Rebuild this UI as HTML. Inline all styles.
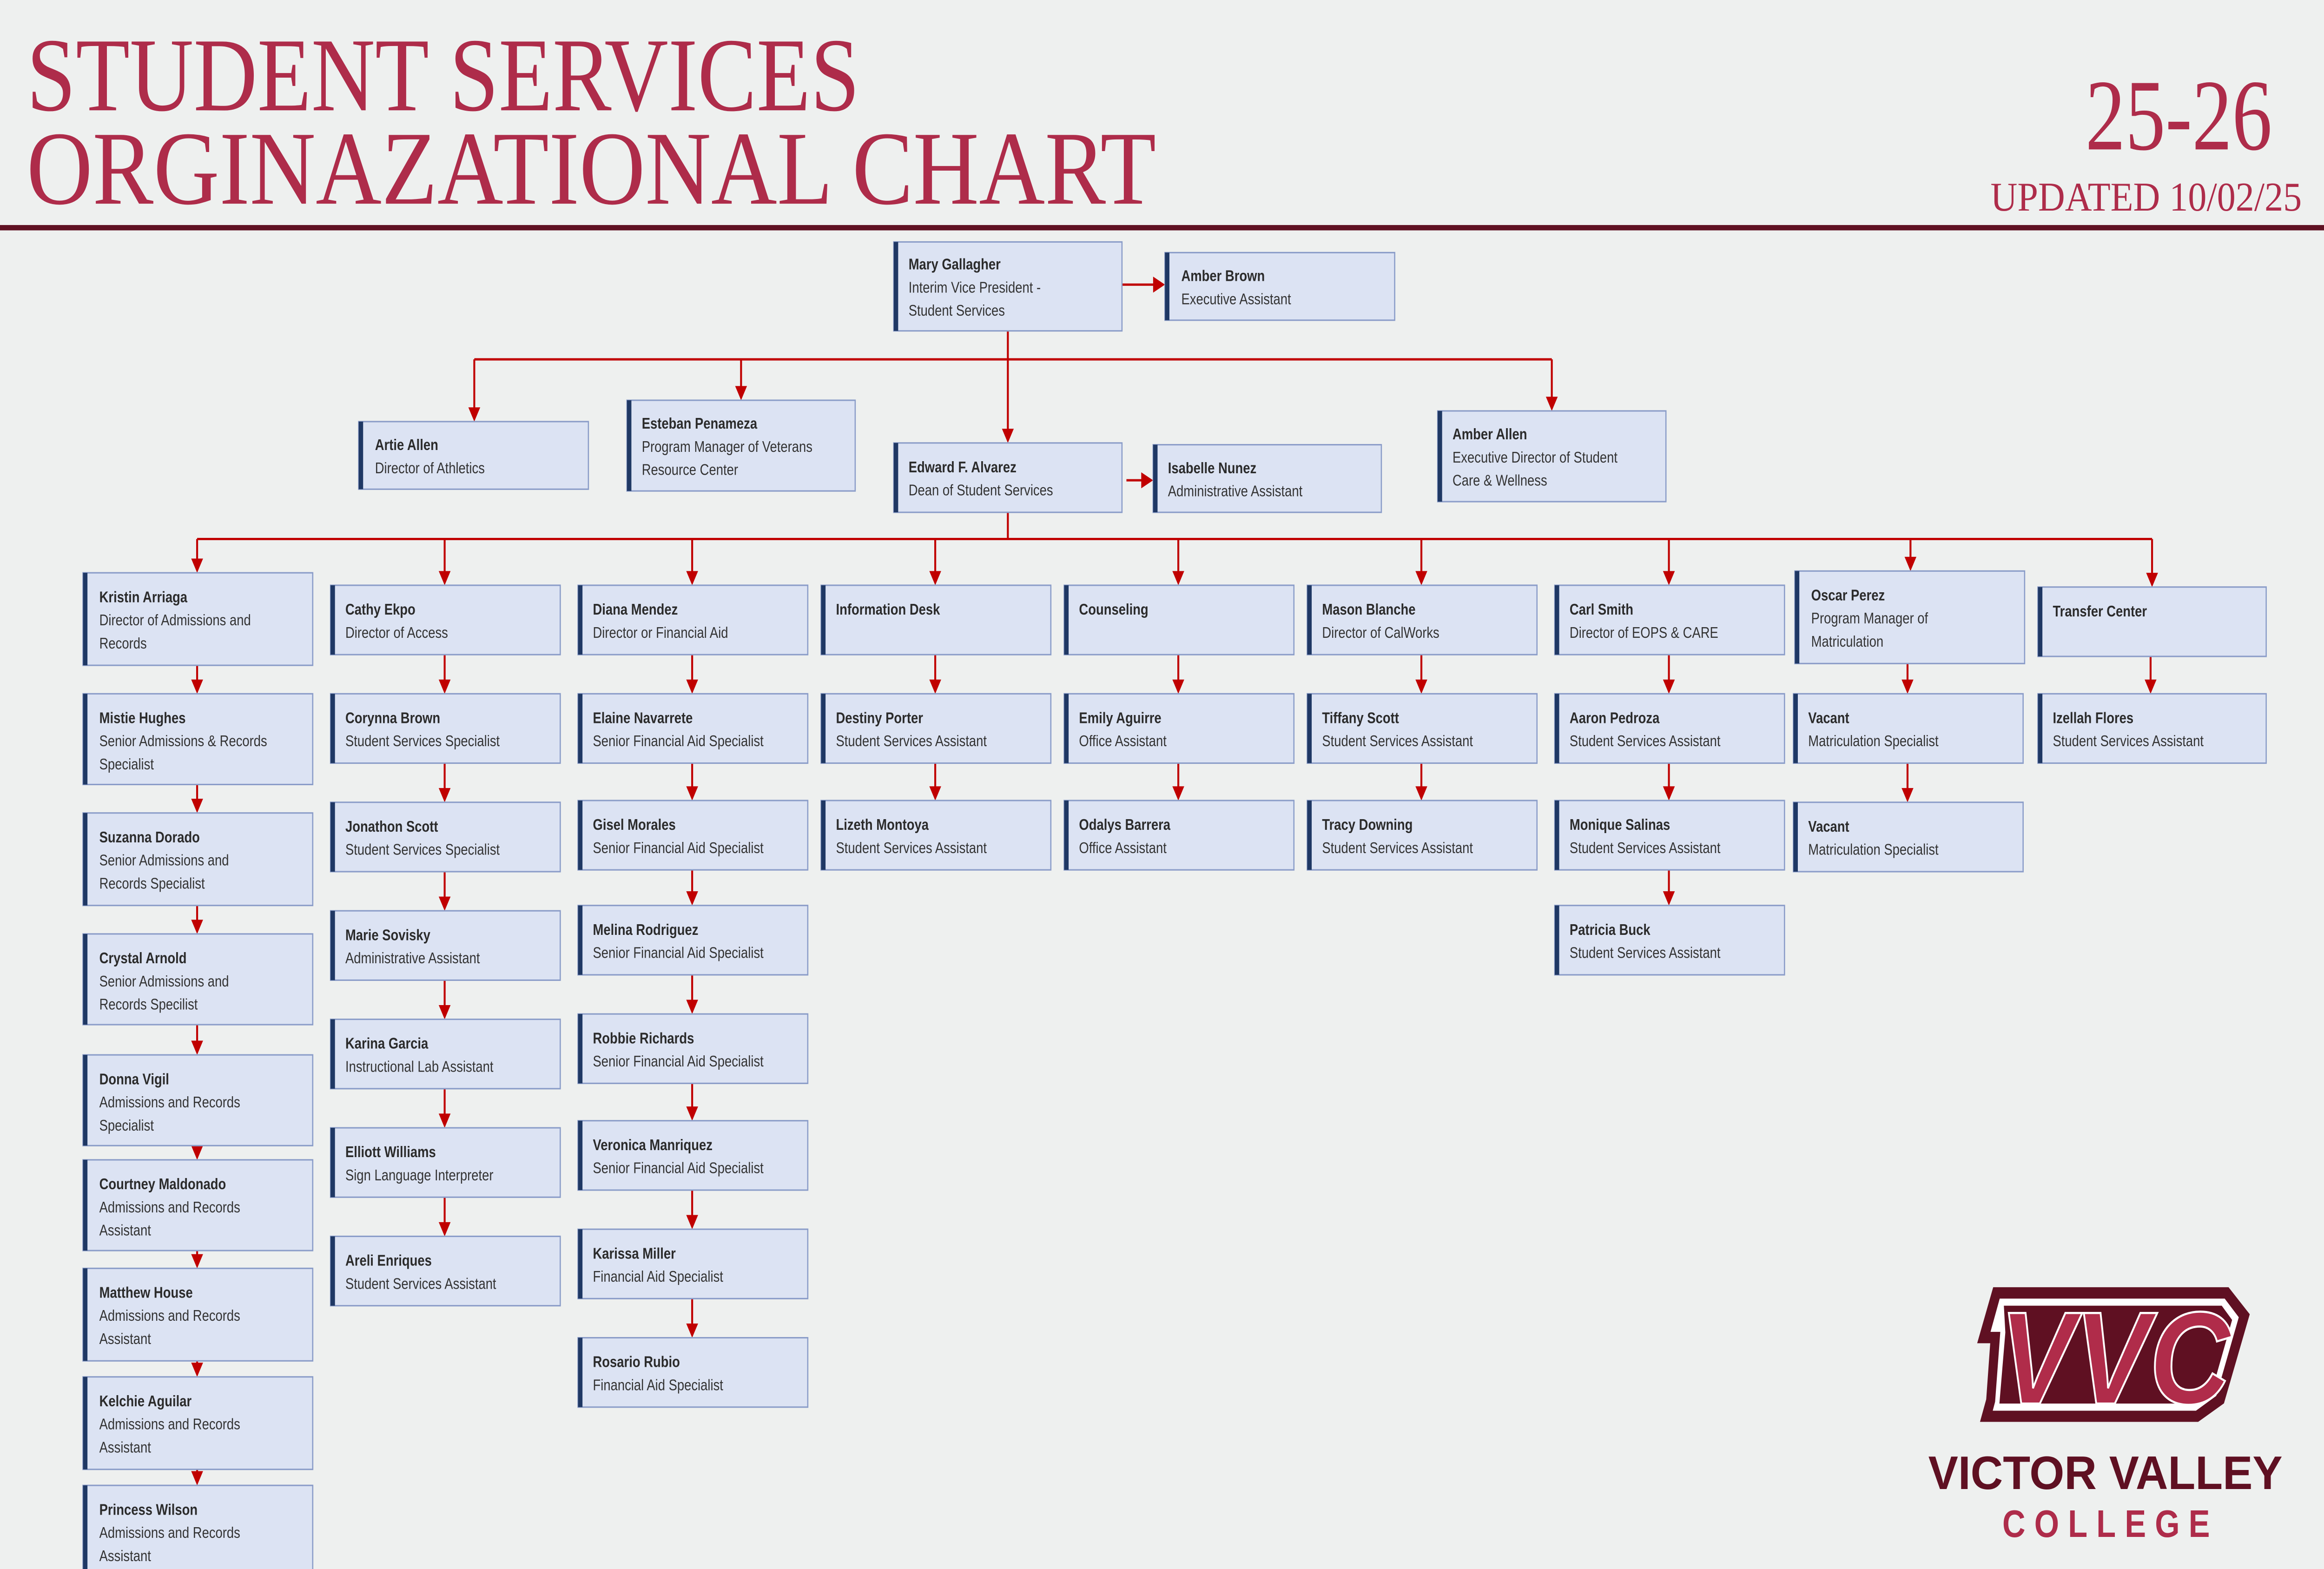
<!DOCTYPE html>
<html><head><meta charset="utf-8"><style>
html,body{margin:0;padding:0;background:#eef0ef;overflow:hidden;width:100vw;height:100vh;}
svg{display:block;position:absolute;left:0;top:0;width:100vw;height:100vh;}
.n{font-family:"Liberation Sans",sans-serif;font-size:8.6px;font-weight:bold;fill:#2b2b2b;}
.t{font-family:"Liberation Sans",sans-serif;font-size:8.6px;fill:#333;}
.b{fill:#dce3f3;stroke:#8a9cc8;stroke-width:0.8;}
.bar{fill:#1f3864;}
.ln{stroke:#c00000;stroke-width:1.3;fill:none;}
.ah{fill:#c00000;}
.ser{font-family:"Liberation Serif",serif;fill:#ae2c4a;}
</style></head><body>
<svg viewBox="0 0 1568 882" preserveAspectRatio="none" xmlns="http://www.w3.org/2000/svg">
<rect width="1568" height="882" fill="#eef0ef"/>
<text class="ser" x="18" y="62" font-size="59" textLength="562" lengthAdjust="spacingAndGlyphs">STUDENT SERVICES</text>
<text class="ser" x="18" y="114.5" font-size="59" textLength="762" lengthAdjust="spacingAndGlyphs">ORGINAZATIONAL CHART</text>
<text class="ser" x="1407" y="84" font-size="57" textLength="126" lengthAdjust="spacingAndGlyphs">25-26</text>
<text class="ser" x="1343" y="118.4" font-size="23" textLength="210" lengthAdjust="spacingAndGlyphs">UPDATED 10/02/25</text>
<rect x="0" y="126.5" width="1568" height="3" fill="#5f1022"/>

<path class="ln" d="M757,160H780 M760,270H772 M680,186V243 M320,202H1047 M320,202V231 M500,202V219 M1047,202V225 M680,288V303 M133,303H1452
M133,303V316 M300,303V323 M467,303V323 M631,303V323 M795,303V323 M959,303V323 M1126,303V323 M1289,303V315 M1452,303V324
M133,374V384 M133,441V451 M133,509V519 M133,576V587 M133,644V646 M133,703V707 M133,765V768 M133,826V829
M300,368V384 M300,429V445 M300,490V506 M300,551V567 M300,612V628 M300,673V689
M467,368V384 M467,429V444 M467,489V503 M467,548V564 M467,609V624 M467,669V685 M467,730V746
M631,368V384 M631,429V444 M795,368V384 M795,429V444 M959,368V384 M959,429V444
M1126,368V384 M1126,429V444 M1126,489V503 M1287,373V384 M1287,429V445 M1451,369V384"/>
<g class="ah">
<polygon points="778,155.5 786,160 778,164.5"/>
<polygon points="770,265.5 778,270 770,274.5"/>
<polygon points="676,241 684,241 680,249"/>
<polygon points="316,229 324,229 320,237"/>
<polygon points="496,217 504,217 500,225"/>
<polygon points="1043,223 1051,223 1047,231"/>
<polygon points="129,314 137,314 133,322"/><polygon points="296,321 304,321 300,329"/><polygon points="463,321 471,321 467,329"/><polygon points="627,321 635,321 631,329"/><polygon points="791,321 799,321 795,329"/><polygon points="955,321 963,321 959,329"/><polygon points="1122,321 1130,321 1126,329"/><polygon points="1285,313 1293,313 1289,321"/><polygon points="1448,322 1456,322 1452,330"/>
<polygon points="129,382 137,382 133,390"/><polygon points="129,449 137,449 133,457"/><polygon points="129,517 137,517 133,525"/><polygon points="129,585 137,585 133,593"/><polygon points="129,644 137,644 133,652"/><polygon points="129,705 137,705 133,713"/><polygon points="129,766 137,766 133,774"/><polygon points="129,827 137,827 133,835"/>
<polygon points="296,382 304,382 300,390"/><polygon points="296,443 304,443 300,451"/><polygon points="296,504 304,504 300,512"/><polygon points="296,565 304,565 300,573"/><polygon points="296,626 304,626 300,634"/><polygon points="296,687 304,687 300,695"/>
<polygon points="463,382 471,382 467,390"/><polygon points="463,442 471,442 467,450"/><polygon points="463,501 471,501 467,509"/><polygon points="463,562 471,562 467,570"/><polygon points="463,622 471,622 467,630"/><polygon points="463,683 471,683 467,691"/><polygon points="463,744 471,744 467,752"/>
<polygon points="627,382 635,382 631,390"/><polygon points="627,442 635,442 631,450"/>
<polygon points="791,382 799,382 795,390"/><polygon points="791,442 799,442 795,450"/>
<polygon points="955,382 963,382 959,390"/><polygon points="955,442 963,442 959,450"/>
<polygon points="1122,382 1130,382 1126,390"/><polygon points="1122,442 1130,442 1126,450"/><polygon points="1122,501 1130,501 1126,509"/>
<polygon points="1283,382 1291,382 1287,390"/><polygon points="1283,443 1291,443 1287,451"/>
<polygon points="1447,382 1455,382 1451,390"/>
</g>

<g>
<rect class="b" x="603" y="136" width="154" height="50"/><rect class="bar" x="603" y="136" width="3" height="50"/><text class="n" x="613" y="151.5">Mary Gallagher</text><text class="t" x="613" y="164.5">Interim Vice President -</text><text class="t" x="613" y="177.5">Student Services</text>
<rect class="b" x="786" y="142" width="155" height="38"/><rect class="bar" x="786" y="142" width="3" height="38"/><text class="n" x="797" y="158">Amber Brown</text><text class="t" x="797" y="171">Executive Assistant</text>
<rect class="b" x="242" y="237" width="155" height="38"/><rect class="bar" x="242" y="237" width="3" height="38"/><text class="n" x="253" y="253">Artie Allen</text><text class="t" x="253" y="266">Director of Athletics</text>
<rect class="b" x="423" y="225" width="154" height="51"/><rect class="bar" x="423" y="225" width="3" height="51"/><text class="n" x="433" y="241">Esteban Penameza</text><text class="t" x="433" y="254">Program Manager of Veterans</text><text class="t" x="433" y="267">Resource Center</text>
<rect class="b" x="970" y="231" width="154" height="51"/><rect class="bar" x="970" y="231" width="3" height="51"/><text class="n" x="980" y="247">Amber Allen</text><text class="t" x="980" y="260">Executive Director of Student</text><text class="t" x="980" y="273">Care &amp; Wellness</text>
<rect class="b" x="603" y="249" width="154" height="39"/><rect class="bar" x="603" y="249" width="3" height="39"/><text class="n" x="613" y="265.5">Edward F. Alvarez</text><text class="t" x="613" y="278.5">Dean of Student Services</text>
<rect class="b" x="778" y="250" width="154" height="38"/><rect class="bar" x="778" y="250" width="3" height="38"/><text class="n" x="788" y="266">Isabelle Nunez</text><text class="t" x="788" y="279">Administrative Assistant</text>
</g>

<g>
<rect class="b" x="56" y="322" width="155" height="52"/><rect class="bar" x="56" y="322" width="3" height="52"/><text class="n" x="67" y="338.5">Kristin Arriaga</text><text class="t" x="67" y="351.5">Director of Admissions and</text><text class="t" x="67" y="364.5">Records</text>
<rect class="b" x="56" y="390" width="155" height="51"/><rect class="bar" x="56" y="390" width="3" height="51"/><text class="n" x="67" y="406.5">Mistie Hughes</text><text class="t" x="67" y="419.5">Senior Admissions &amp; Records</text><text class="t" x="67" y="432.5">Specialist</text>
<rect class="b" x="56" y="457" width="155" height="52"/><rect class="bar" x="56" y="457" width="3" height="52"/><text class="n" x="67" y="473.5">Suzanna Dorado</text><text class="t" x="67" y="486.5">Senior Admissions and</text><text class="t" x="67" y="499.5">Records Specialist</text>
<rect class="b" x="56" y="525" width="155" height="51"/><rect class="bar" x="56" y="525" width="3" height="51"/><text class="n" x="67" y="541.5">Crystal Arnold</text><text class="t" x="67" y="554.5">Senior Admissions and</text><text class="t" x="67" y="567.5">Records Specilist</text>
<rect class="b" x="56" y="593" width="155" height="51"/><rect class="bar" x="56" y="593" width="3" height="51"/><text class="n" x="67" y="609.5">Donna Vigil</text><text class="t" x="67" y="622.5">Admissions and Records</text><text class="t" x="67" y="635.5">Specialist</text>
<rect class="b" x="56" y="652" width="155" height="51"/><rect class="bar" x="56" y="652" width="3" height="51"/><text class="n" x="67" y="668.5">Courtney Maldonado</text><text class="t" x="67" y="681.5">Admissions and Records</text><text class="t" x="67" y="694.5">Assistant</text>
<rect class="b" x="56" y="713" width="155" height="52"/><rect class="bar" x="56" y="713" width="3" height="52"/><text class="n" x="67" y="729.5">Matthew House</text><text class="t" x="67" y="742.5">Admissions and Records</text><text class="t" x="67" y="755.5">Assistant</text>
<rect class="b" x="56" y="774" width="155" height="52"/><rect class="bar" x="56" y="774" width="3" height="52"/><text class="n" x="67" y="790.5">Kelchie Aguilar</text><text class="t" x="67" y="803.5">Admissions and Records</text><text class="t" x="67" y="816.5">Assistant</text>
<rect class="b" x="56" y="835" width="155" height="52"/><rect class="bar" x="56" y="835" width="3" height="52"/><text class="n" x="67" y="851.5">Princess Wilson</text><text class="t" x="67" y="864.5">Admissions and Records</text><text class="t" x="67" y="877.5">Assistant</text>
</g>
<g>
<rect class="b" x="223" y="329" width="155" height="39"/><rect class="bar" x="223" y="329" width="3" height="39"/><text class="n" x="233" y="345.5">Cathy Ekpo</text><text class="t" x="233" y="358.5">Director of Access</text>
<rect class="b" x="223" y="390" width="155" height="39"/><rect class="bar" x="223" y="390" width="3" height="39"/><text class="n" x="233" y="406.5">Corynna Brown</text><text class="t" x="233" y="419.5">Student Services Specialist</text>
<rect class="b" x="223" y="451" width="155" height="39"/><rect class="bar" x="223" y="451" width="3" height="39"/><text class="n" x="233" y="467.5">Jonathon Scott</text><text class="t" x="233" y="480.5">Student Services Specialist</text>
<rect class="b" x="223" y="512" width="155" height="39"/><rect class="bar" x="223" y="512" width="3" height="39"/><text class="n" x="233" y="528.5">Marie Sovisky</text><text class="t" x="233" y="541.5">Administrative Assistant</text>
<rect class="b" x="223" y="573" width="155" height="39"/><rect class="bar" x="223" y="573" width="3" height="39"/><text class="n" x="233" y="589.5">Karina Garcia</text><text class="t" x="233" y="602.5">Instructional Lab Assistant</text>
<rect class="b" x="223" y="634" width="155" height="39"/><rect class="bar" x="223" y="634" width="3" height="39"/><text class="n" x="233" y="650.5">Elliott Williams</text><text class="t" x="233" y="663.5">Sign Language Interpreter</text>
<rect class="b" x="223" y="695" width="155" height="39"/><rect class="bar" x="223" y="695" width="3" height="39"/><text class="n" x="233" y="711.5">Areli Enriques</text><text class="t" x="233" y="724.5">Student Services Assistant</text>
</g>
<g>
<rect class="b" x="390" y="329" width="155" height="39"/><rect class="bar" x="390" y="329" width="3" height="39"/><text class="n" x="400" y="345.5">Diana Mendez</text><text class="t" x="400" y="358.5">Director or Financial Aid</text>
<rect class="b" x="390" y="390" width="155" height="39"/><rect class="bar" x="390" y="390" width="3" height="39"/><text class="n" x="400" y="406.5">Elaine Navarrete</text><text class="t" x="400" y="419.5">Senior Financial Aid Specialist</text>
<rect class="b" x="390" y="450" width="155" height="39"/><rect class="bar" x="390" y="450" width="3" height="39"/><text class="n" x="400" y="466.5">Gisel Morales</text><text class="t" x="400" y="479.5">Senior Financial Aid Specialist</text>
<rect class="b" x="390" y="509" width="155" height="39"/><rect class="bar" x="390" y="509" width="3" height="39"/><text class="n" x="400" y="525.5">Melina Rodriguez</text><text class="t" x="400" y="538.5">Senior Financial Aid Specialist</text>
<rect class="b" x="390" y="570" width="155" height="39"/><rect class="bar" x="390" y="570" width="3" height="39"/><text class="n" x="400" y="586.5">Robbie Richards</text><text class="t" x="400" y="599.5">Senior Financial Aid Specialist</text>
<rect class="b" x="390" y="630" width="155" height="39"/><rect class="bar" x="390" y="630" width="3" height="39"/><text class="n" x="400" y="646.5">Veronica Manriquez</text><text class="t" x="400" y="659.5">Senior Financial Aid Specialist</text>
<rect class="b" x="390" y="691" width="155" height="39"/><rect class="bar" x="390" y="691" width="3" height="39"/><text class="n" x="400" y="707.5">Karissa Miller</text><text class="t" x="400" y="720.5">Financial Aid Specialist</text>
<rect class="b" x="390" y="752" width="155" height="39"/><rect class="bar" x="390" y="752" width="3" height="39"/><text class="n" x="400" y="768.5">Rosario Rubio</text><text class="t" x="400" y="781.5">Financial Aid Specialist</text>
</g>
<g>
<rect class="b" x="554" y="329" width="155" height="39"/><rect class="bar" x="554" y="329" width="3" height="39"/><text class="n" x="564" y="345.5">Information Desk</text>
<rect class="b" x="554" y="390" width="155" height="39"/><rect class="bar" x="554" y="390" width="3" height="39"/><text class="n" x="564" y="406.5">Destiny Porter</text><text class="t" x="564" y="419.5">Student Services Assistant</text>
<rect class="b" x="554" y="450" width="155" height="39"/><rect class="bar" x="554" y="450" width="3" height="39"/><text class="n" x="564" y="466.5">Lizeth Montoya</text><text class="t" x="564" y="479.5">Student Services Assistant</text>

<rect class="b" x="718" y="329" width="155" height="39"/><rect class="bar" x="718" y="329" width="3" height="39"/><text class="n" x="728" y="345.5">Counseling</text>
<rect class="b" x="718" y="390" width="155" height="39"/><rect class="bar" x="718" y="390" width="3" height="39"/><text class="n" x="728" y="406.5">Emily Aguirre</text><text class="t" x="728" y="419.5">Office Assistant</text>
<rect class="b" x="718" y="450" width="155" height="39"/><rect class="bar" x="718" y="450" width="3" height="39"/><text class="n" x="728" y="466.5">Odalys Barrera</text><text class="t" x="728" y="479.5">Office Assistant</text>

<rect class="b" x="882" y="329" width="155" height="39"/><rect class="bar" x="882" y="329" width="3" height="39"/><text class="n" x="892" y="345.5">Mason Blanche</text><text class="t" x="892" y="358.5">Director of CalWorks</text>
<rect class="b" x="882" y="390" width="155" height="39"/><rect class="bar" x="882" y="390" width="3" height="39"/><text class="n" x="892" y="406.5">Tiffany Scott</text><text class="t" x="892" y="419.5">Student Services Assistant</text>
<rect class="b" x="882" y="450" width="155" height="39"/><rect class="bar" x="882" y="450" width="3" height="39"/><text class="n" x="892" y="466.5">Tracy Downing</text><text class="t" x="892" y="479.5">Student Services Assistant</text>

<rect class="b" x="1049" y="329" width="155" height="39"/><rect class="bar" x="1049" y="329" width="3" height="39"/><text class="n" x="1059" y="345.5">Carl Smith</text><text class="t" x="1059" y="358.5">Director of EOPS &amp; CARE</text>
<rect class="b" x="1049" y="390" width="155" height="39"/><rect class="bar" x="1049" y="390" width="3" height="39"/><text class="n" x="1059" y="406.5">Aaron Pedroza</text><text class="t" x="1059" y="419.5">Student Services Assistant</text>
<rect class="b" x="1049" y="450" width="155" height="39"/><rect class="bar" x="1049" y="450" width="3" height="39"/><text class="n" x="1059" y="466.5">Monique Salinas</text><text class="t" x="1059" y="479.5">Student Services Assistant</text>
<rect class="b" x="1049" y="509" width="155" height="39"/><rect class="bar" x="1049" y="509" width="3" height="39"/><text class="n" x="1059" y="525.5">Patricia Buck</text><text class="t" x="1059" y="538.5">Student Services Assistant</text>

<rect class="b" x="1211" y="321" width="155" height="52"/><rect class="bar" x="1211" y="321" width="3" height="52"/><text class="n" x="1222" y="337.5">Oscar Perez</text><text class="t" x="1222" y="350.5">Program Manager of</text><text class="t" x="1222" y="363.5">Matriculation</text>
<rect class="b" x="1210" y="390" width="155" height="39"/><rect class="bar" x="1210" y="390" width="3" height="39"/><text class="n" x="1220" y="406.5">Vacant</text><text class="t" x="1220" y="419.5">Matriculation Specialist</text>
<rect class="b" x="1210" y="451" width="155" height="39"/><rect class="bar" x="1210" y="451" width="3" height="39"/><text class="n" x="1220" y="467.5">Vacant</text><text class="t" x="1220" y="480.5">Matriculation Specialist</text>

<rect class="b" x="1375" y="330" width="154" height="39"/><rect class="bar" x="1375" y="330" width="3" height="39"/><text class="n" x="1385" y="346.5">Transfer Center</text>
<rect class="b" x="1375" y="390" width="154" height="39"/><rect class="bar" x="1375" y="390" width="3" height="39"/><text class="n" x="1385" y="406.5">Izellah Flores</text><text class="t" x="1385" y="419.5">Student Services Assistant</text>
</g>

<g>
<polygon fill="#5f1022" points="1344.8,723.6 1503.6,723.6 1517.9,738.8 1500.5,788.9 1483.1,799.3 1335.9,799.3 1340.1,786.6 1342.8,755.1 1334,755.1"/>
<polygon fill="#ffffff" points="1349.2,730 1501,730 1510.5,740.5 1495.3,784.7 1481.6,793 1344.5,793 1346.1,788 1349.6,748.7 1343,748.7"/>
<polygon fill="#5f1022" points="1352,734 1499,734 1506,742 1492,783 1480,789 1349,789 1353,749"/>
<text x="1349" y="789" font-family="Liberation Sans,sans-serif" font-weight="bold" font-style="italic" font-size="74" fill="#b02c4a" stroke="#ffffff" stroke-width="1.2" textLength="156" lengthAdjust="spacingAndGlyphs">VVC</text>
<text x="1301" y="837" font-family="Liberation Sans,sans-serif" font-weight="bold" font-size="26.5" fill="#5f1022" textLength="239" lengthAdjust="spacingAndGlyphs">VICTOR VALLEY</text>
<text x="1351" y="864" font-family="Liberation Sans,sans-serif" font-weight="bold" font-size="21.5" fill="#ae2c4a" textLength="140" lengthAdjust="spacing">COLLEGE</text>
</g>
</svg>
</body></html>
